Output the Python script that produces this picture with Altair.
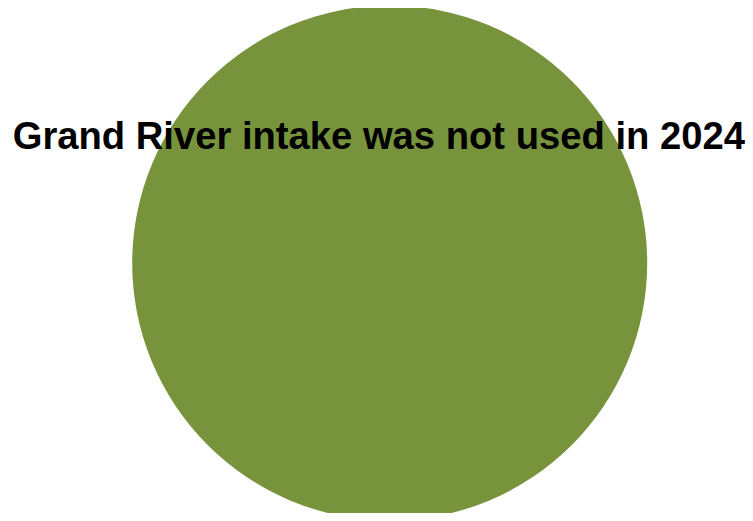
import altair as alt
import pandas as pd

categories = ["Grand River intake"]
values = [1]
title_text = ["Grand River intake was not used in 2024"]

pie_df = pd.DataFrame({"category": categories, "value": values})
text_df = pd.DataFrame({"label": title_text})

pie = alt.Chart(pie_df).mark_arc(outerRadius=257.5, stroke=None).encode(
    theta=alt.Theta("value:Q"),
    color=alt.Color("category:N", scale=alt.Scale(range=["#77933C"]), legend=None),
    x=alt.value(381.7),
    y=alt.value(255.0),
)

txt = alt.Chart(text_df).mark_text(
    font="Liberation Sans", fontWeight="bold", fontSize=38.2, color="#000000",
    align="center", baseline="alphabetic",
).encode(
    text="label:N",
    x=alt.value(370.8),
    y=alt.value(141.0),
)

chart = alt.layer(pie, txt).properties(
    width=737, height=505, padding=0, autosize=alt.AutoSizeParams(type="none"),
).configure_view(stroke=None)

chart.save("out.html", embed_options={"renderer": "svg", "actions": False})
